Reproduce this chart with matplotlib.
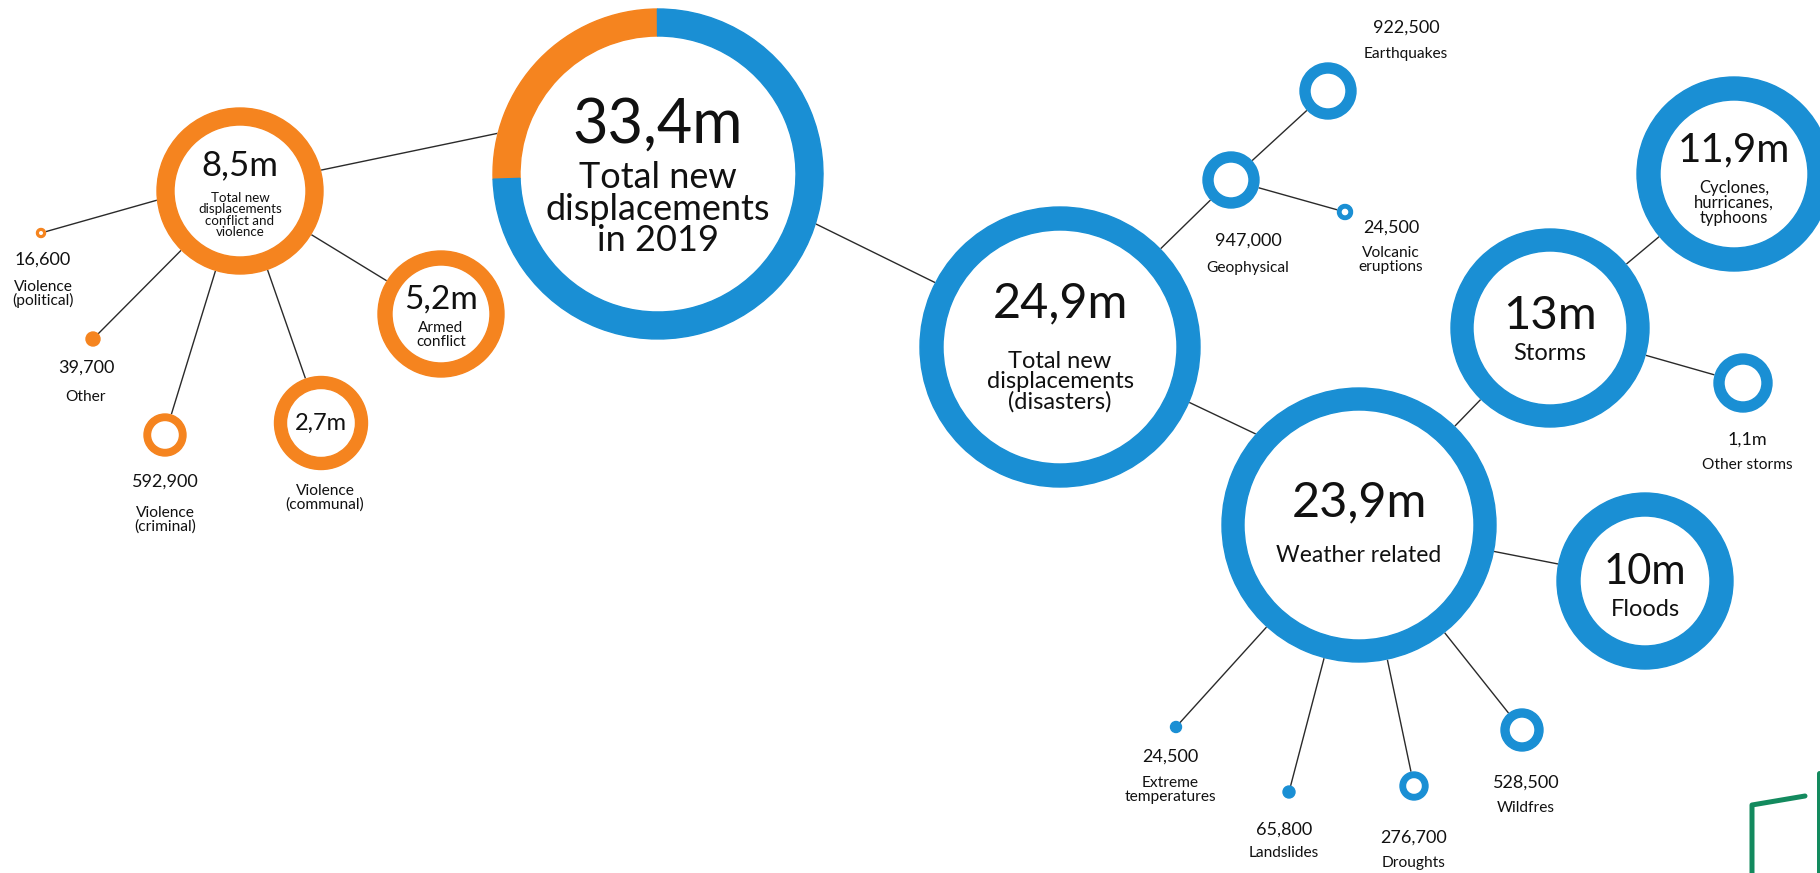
import matplotlib
matplotlib.use('Agg')
import matplotlib.pyplot as plt
from matplotlib.patches import Circle, Wedge

# --- data -------------------------------------------------------------
node_ids = ['total', 'conflict', 'political', 'other', 'criminal', 'communal',
            'armed', 'disasters', 'geophysical', 'earthquakes', 'volcanic',
            'weather', 'storms', 'cyclones', 'other_storms', 'floods',
            'extreme', 'landslides', 'droughts', 'wildfires']
node_values = ['33,4m', '8,5m', '16,600', '39,700', '592,900', '2,7m',
               '5,2m', '24,9m', '947,000', '922,500', '24,500',
               '23,9m', '13m', '11,9m', '1,1m', '10m',
               '24,500', '65,800', '276,700', '528,500']
node_names = ['Total new\ndisplacements\nin 2019',
              'Total new\ndisplacements\nconflict and\nviolence',
              'Violence\n(political)', 'Other', 'Violence\n(criminal)',
              'Violence\n(communal)', 'Armed\nconflict',
              'Total new\ndisplacements\n(disasters)', 'Geophysical',
              'Earthquakes', 'Volcanic\neruptions', 'Weather related',
              'Storms', 'Cyclones,\nhurricanes,\ntyphoons', 'Other storms',
              'Floods', 'Extreme\ntemperatures', 'Landslides', 'Droughts',
              'Wildfres']
node_parent = [None, 'total', 'conflict', 'conflict', 'conflict', 'conflict',
               'conflict', 'total', 'disasters', 'geophysical', 'geophysical',
               'disasters', 'weather', 'storms', 'storms', 'weather',
               'weather', 'weather', 'weather', 'weather']
node_group = ['mixed', 'conflict', 'conflict', 'conflict', 'conflict',
              'conflict', 'conflict', 'disaster', 'disaster', 'disaster',
              'disaster', 'disaster', 'disaster', 'disaster', 'disaster',
              'disaster', 'disaster', 'disaster', 'disaster', 'disaster']

# --- layout (pixel space) ---------------------------------------------
centers = {
    'total': (658, 174), 'conflict': (240, 191), 'political': (41, 233),
    'other': (93, 339), 'criminal': (165, 435), 'communal': (321, 423),
    'armed': (441, 314), 'disasters': (1060, 347), 'geophysical': (1231, 180),
    'earthquakes': (1328, 91), 'volcanic': (1345, 212), 'weather': (1359, 525),
    'storms': (1550, 328), 'cyclones': (1734, 174), 'other_storms': (1743, 383),
    'floods': (1645, 581), 'extreme': (1176, 727), 'landslides': (1289, 792),
    'droughts': (1414, 786), 'wildfires': (1522, 730),
}
# a few links do not run centre to centre: (parent end, child end)
link_ends = {
    'conflict': ((600, 112), (240, 187)),
    'political': ((200, 188), (41, 233)),
    'disasters': ((700, 167), (1060, 344)),
    'weather': ((1100, 360), (1300, 455)),
}
# (outer radius, ring width) - width None means filled dot
rings = {
    'total': (165, 27), 'conflict': (83, 17), 'political': (4.5, 1.8),
    'other': (7, None), 'criminal': (21, 6.5), 'communal': (46.5, 12),
    'armed': (63, 14), 'disasters': (140, 23), 'geophysical': (28, 10),
    'earthquakes': (28, 10), 'volcanic': (7.5, 3.5), 'weather': (137, 22),
    'storms': (99, 22), 'cyclones': (97, 23), 'other_storms': (29, 10),
    'floods': (88, 23), 'extreme': (5.5, None), 'landslides': (6, None),
    'droughts': (14, 5.5), 'wildfires': (21, 8),
}
# text inside the ring: (value y, value size, name y, name size)
inside = {
    'total': (125, 44, 209, 26),
    'conflict': (165, 25, 215, 9.6),
    'communal': (423, 17, None, None),
    'armed': (300, 24, 335, 11),
    'disasters': (303, 35, 382, 17),
    'weather': (502, 35, 555, 16.5),
    'storms': (316, 34, 353, 17),
    'cyclones': (150, 29, 203, 12),
    'floods': (572, 30, 610, 17),
}
# labels outside the ring: (x, value y, name y)
outside = {
    'political': (43, 260, 294), 'other': (86, 368, 397),
    'criminal': (165, 482, 520), 'communal': (325, None, 498),
    'earthquakes': (1406, 28, 54), 'geophysical': (1248, 241, 268),
    'volcanic': (1391, 228, 260), 'other_storms': (1747, 440, 465),
    'extreme': (1170, 757, 790), 'landslides': (1284, 830, 853),
    'droughts': (1414, 838, 863), 'wildfires': (1526, 783, 808),
}

ORANGE = '#F5841F'
BLUE = '#1A8FD4'
LINE = '#2a2a2a'
TEXT = '#111111'
GREEN = '#138A5E'

plt.rcParams['font.family'] = ['Lato', 'DejaVu Sans']

fig = plt.figure(figsize=(18.2, 8.73), dpi=100)
ax = fig.add_axes([0, 0, 1, 1])
ax.set_xlim(0, 1820)
ax.set_ylim(873, 0)
ax.axis('off')

# connecting lines (drawn under the white ring interiors)
for nid, parent in zip(node_ids, node_parent):
    if parent is None:
        continue
    (x0, y0), (x1, y1) = link_ends.get(nid, (centers[parent], centers[nid]))
    ax.plot([x0, x1], [y0, y1], color=LINE, lw=1.0, zorder=1)

# rings
vals = dict(zip(node_ids, node_values))
for nid, group in zip(node_ids, node_group):
    xy = centers[nid]
    r, w = rings[nid]
    col = ORANGE if group == 'conflict' else BLUE
    if w is None:
        ax.add_patch(Circle(xy, r, color=col, zorder=3))
        continue
    ax.add_patch(Circle(xy, r, color='white', zorder=2))
    if group == 'mixed':
        share = (float(vals['conflict'][:-1].replace(',', '.'))
                 / float(vals['total'][:-1].replace(',', '.')))
        span = share * 360
        # y axis is flipped, so angles run clockwise on screen
        a1, a2 = -(136 + span / 2), -(136 - span / 2)
        ax.add_patch(Wedge(xy, r, a1, a2, width=w, color=ORANGE, zorder=3))
        ax.add_patch(Wedge(xy, r, a2, a1 + 360, width=w, color=BLUE, zorder=3))
    else:
        ax.add_patch(Wedge(xy, r, 0, 360, width=w, color=col, zorder=3))

# texts
for nid, val, name in zip(node_ids, node_values, node_names):
    if nid in inside:
        vy, vs, ny, ns = inside[nid]
        x = centers[nid][0]
        ax.text(x, vy, val, fontsize=vs, ha='center', va='center', color=TEXT, zorder=4)
        if ny is not None:
            ax.text(x, ny, name, fontsize=ns, ha='center', va='center',
                    color=TEXT, linespacing=0.95, zorder=4)
    if nid in outside:
        x, vy, ny = outside[nid]
        if vy is not None:
            ax.text(x, vy, val, fontsize=13, ha='center', va='center', color=TEXT, zorder=4)
        ax.text(x, ny, name, fontsize=11.2, ha='center', va='center',
                color=TEXT, linespacing=0.95, zorder=4)

# cut-off green decoration in the corner
ax.plot([1752, 1752, 1805], [880, 805, 796], color=GREEN, lw=3.6,
        solid_capstyle='round', solid_joinstyle='round', zorder=5)
ax.plot([1819, 1819], [773, 880], color=GREEN, lw=3.6,
        solid_capstyle='round', zorder=5)

fig.savefig('out.png', dpi=100)
